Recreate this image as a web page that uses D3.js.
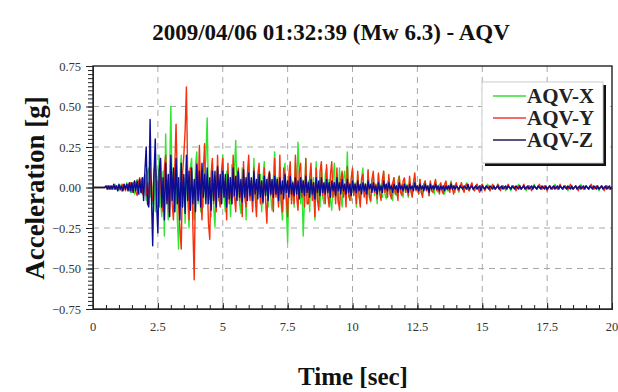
<!DOCTYPE html>
<html>
<head>
<meta charset="utf-8">
<script src="https://cdn.jsdelivr.net/npm/d3@7"></script>
<style>
  body { margin: 0; background: #fff; }
  svg { font-family: "Liberation Serif", "DejaVu Serif", serif; }
</style>
</head>
<body>
<div id="chart"></div>
<script>
// sample step of the traces, seconds
const dt = 0.05;
const xTicks = [0, 2.5, 5, 7.5, 10, 12.5, 15, 17.5, 20];
const yTicks = [-0.75, -0.5, -0.25, 0, 0.25, 0.5, 0.75];
const seriesNames = ['AQV-X', 'AQV-Y', 'AQV-Z'];

// AQV-X (green), values in g, 20 per second
const aqvX = [
  0,0,0,0,0,0,0,0,0,0, 0.01,-0.01,0.01,0,-0.01,0.01,-0.01,0.02,-0.01,0.01,
  -0.02,0.01,0.02,-0.02,0.01,-0.01,0.03,-0.02,0.02,-0.03, 0.03,-0.01,-0.04,0.03,0.05,-0.03,-0.04,0.04,0.06,-0.05,
  0.03,-0.08,0.1,0.12,-0.06,0.04,-0.1,0.08,-0.15,0.1, -0.12,0.2,-0.08,-0.18,0.1,-0.3,0.33,-0.05,-0.2,0.08,
  0.5,-0.05,0.1,-0.15,0.12,-0.2,-0.38,0.05,0.2,-0.12, 0.06,-0.22,0.15,-0.08,-0.25,0.12,0.18,-0.1,-0.2,0.14,
  0.22,-0.1,0.05,-0.15,0.1,-0.12,0.08,0.18,0.43,-0.08, 0.04,-0.18,0.15,-0.12,-0.24,0.06,0.12,-0.08,0.04,-0.1,
  0.2,-0.05,-0.15,0.1,-0.06,0.06,-0.18,0.14,-0.06,0.1, 0.29,-0.04,0.05,-0.1,-0.16,0.12,-0.04,0.06,-0.2,0.06,
  0.15,-0.06,0.04,-0.12,0.18,-0.05,-0.1,0.06,-0.04,0.08, -0.15,0.06,0.16,-0.05,0.03,-0.12,0.1,-0.06,-0.14,0.05,
  0.22,-0.04,0.06,-0.1,0.12,-0.1,-0.2,0.06,0.15,-0.12, -0.34,0.05,0.1,-0.08,0.04,-0.12,0.15,-0.05,0.28,0.08,
  -0.1,0.05,-0.3,-0.08,0.18,-0.06,0.04,-0.15,0.12,-0.05, 0.06,-0.2,0.16,-0.08,0.03,-0.12,0.14,-0.06,-0.1,0.08,
  0.12,-0.04,0.05,-0.08,-0.14,0.05,0.15,-0.06,0.04,-0.1, 0.12,-0.05,-0.12,0.06,0.1,-0.04,0.22,-0.06,0.03,-0.08,
  0.1,-0.04,0.03,-0.12,0.08,-0.05,-0.1,0.06,0.12,-0.04, 0.02,-0.08,0.1,-0.06,-0.09,0.04,0.07,-0.05,0.02,-0.1,
  0.08,-0.03,0.02,-0.06,0.1,-0.04,-0.07,0.03,0.05,-0.04, 0.02,-0.08,0.06,-0.04,-0.05,0.04,0.07,-0.03,0.02,-0.06,
  0.05,-0.03,0.02,-0.06,0.04,-0.02,-0.05,0.03,0.06,-0.02, 0.01,-0.04,0.05,-0.03,-0.03,0.02,0.04,-0.02,0.01,-0.05,
  0.03,-0.02,0.01,-0.04,0.04,-0.01,-0.03,0.02,0.02,-0.02, 0.01,-0.04,0.03,-0.02,-0.02,0.01,0.04,-0.01,0.01,-0.03,
  0.02,-0.01,-0.03,0.01,0.02,-0.01,-0.02,0.01,0.03,-0.01, -0.02,0.01,0.01,-0.01,-0.02,0.01,0.02,-0.01,-0.01,0.01,
  0.02,0,-0.01,0,0.02,0.01,-0.02,0,0.01,0, -0.01,0,0.02,0.01,-0.01,0,0.01,0,-0.02,0,
  0.01,0,-0.02,0,0.01,0,-0.01,0,0.02,0.01, -0.01,0,0.01,0,-0.02,0,0.01,0,-0.01,0,
  0.02,0,-0.01,0,0.01,0,-0.01,0,0.01,0, -0.02,0,0.01,0,-0.01,0,0.02,0,-0.01,0,
  0.01,0,-0.01,0,0.01,0,-0.02,0,0.01,0, -0.01,0,0.01,0,-0.01,0,0.02,0,-0.01,0,
  0.01,0,-0.01,0,0.01,0,-0.01,0,0.01,0, -0.02,0,0.01,0,-0.01,0,0.01,0,-0.01,0,
  0
];

// AQV-Y (red)
const aqvY = [
  0,0,0,0,0,0,0,0,0,0, 0,0.01,-0.01,0.01,-0.01,0,0.01,-0.01,0.01,-0.01,
  0.01,-0.01,-0.02,0.02,0.01,-0.02,0.01,0.02,-0.02,0.03, -0.03,0.02,0.04,-0.03,-0.05,0.03,0.06,-0.02,-0.04,0.05,
  0.08,-0.05,0.03,-0.1,0.12,-0.04,-0.08,0.1,0.15,-0.06, 0.04,-0.12,0.18,-0.1,-0.15,0.12,0.2,-0.08,0.05,-0.18,
  0.15,-0.1,-0.2,0.12,0.39,0.05,-0.12,-0.25,-0.38,0.08, 0.2,0.35,0.62,0.05,-0.2,0.12,0.1,-0.25,-0.57,0.05,
  0.15,-0.08,0.26,-0.05,-0.2,0.1,0.27,-0.06,0.05,-0.22, -0.32,0.08,0.18,-0.1,0.04,-0.15,0.2,-0.06,-0.12,0.1,
  0.18,-0.06,0.04,-0.2,0.15,-0.1,0.05,-0.1,0.2,-0.05, -0.15,0.06,0.12,-0.08,0.03,-0.18,0.16,-0.06,-0.12,0.08,
  0.2,-0.08,0.04,-0.15,0.12,-0.06,-0.18,0.08,0.15,-0.1, 0.03,-0.1,0.12,-0.08,-0.22,0.06,0.1,-0.05,0.04,-0.15,
  0.18,-0.06,0.03,-0.12,0.2,-0.08,-0.15,0.12,0.04,-0.06, -0.18,0.08,0.16,-0.1,0.02,-0.1,0.2,-0.06,-0.14,0.1,
  0.15,-0.06,0.04,-0.12,0.18,-0.1,-0.1,0.06,0.15,-0.08, 0.03,-0.18,0.12,-0.08,-0.14,0.1,0.16,-0.05,0.02,-0.1,
  0.14,-0.05,-0.12,0.08,0.16,-0.06,0.03,-0.1,0.12,-0.08, -0.14,0.05,0.1,-0.06,0.02,-0.12,0.13,-0.04,-0.08,0.06,
  0.12,-0.05,0.02,-0.1,0.1,-0.04,-0.12,0.05,0.08,-0.06, 0.02,-0.1,0.11,-0.05,-0.08,0.05,0.1,-0.03,0.02,-0.07,
  0.09,-0.04,-0.08,0.05,0.1,-0.03,0.02,-0.06,0.08,-0.04, -0.07,0.03,0.06,-0.04,0.01,-0.08,0.07,-0.03,-0.05,0.04,
  0.06,-0.03,0.01,-0.05,0.07,-0.02,-0.06,0.03,0.09,-0.02, 0.01,-0.04,0.05,-0.03,-0.06,0.02,0.04,-0.02,0.01,-0.05,
  0.04,-0.02,-0.03,0.02,0.05,-0.02,0.01,-0.04,0.03,-0.02, -0.04,0.02,0.04,-0.01,0.01,-0.03,0.03,-0.01,-0.04,0.01,
  0.03,-0.01,-0.02,0.01,0.03,-0.01,-0.03,0.01,0.02,-0.01, -0.02,0.01,0.03,-0.01,-0.02,0.01,0.02,-0.01,-0.03,0.01,
  0.02,0,-0.02,0,0.01,0,-0.02,0,0.02,0, -0.01,0,0.02,0,-0.02,0,0.01,0,-0.01,0,
  0.02,0,-0.01,0,0.01,0,-0.02,0,0.01,0, -0.01,0,0.02,0,-0.01,0,0.01,0,-0.02,0,
  0.01,0,-0.01,0,0.02,0,-0.01,0,0.01,0, -0.02,0,0.01,0,-0.01,0,0.01,0,-0.01,0,
  0.02,0,-0.01,0,0.01,0,-0.01,0,0.02,0, -0.01,0,0.01,0,-0.02,0,0.01,0,-0.01,0,
  0.01,0,-0.01,0,0.02,0,-0.01,0,0.01,0, -0.01,0,0.01,0,-0.02,0,0.01,0,-0.01,0,
  0
];

// AQV-Z (blue)
const aqvZ = [
  0,0,0,0,0,0,0,0,0,0, 0.01,-0.01,0.01,-0.01,0.01,-0.01,0.02,-0.01,0.01,-0.02,
  0.02,-0.01,0.01,-0.02,0.02,-0.01,0.02,-0.02,0.03,-0.02, 0.03,-0.03,0.04,-0.02,0.04,-0.04,0.05,-0.03,0.06,-0.08,
  0.1,0.25,-0.1,-0.12,0.42,-0.05,-0.36,0.08,0.3,-0.1, -0.28,0.1,0.18,-0.12,0.06,-0.2,0.15,-0.1,0.08,-0.18,
  0.2,-0.08,0.12,-0.15,0.18,-0.1,0.06,-0.2,0.15,-0.12, 0.08,-0.16,0.2,-0.08,0.1,-0.14,0.12,-0.1,0.05,-0.15,
  0.14,-0.08,0.1,-0.12,0.15,-0.06,0.08,-0.1,0.12,-0.1, 0.06,-0.14,0.1,-0.08,0.1,-0.12,0.13,-0.06,0.08,-0.1,
  0.1,-0.06,0.08,-0.12,0.08,-0.07,0.06,-0.1,0.12,-0.05, 0.07,-0.08,0.1,-0.06,0.05,-0.09,0.11,-0.06,0.06,-0.08,
  0.09,-0.05,0.06,-0.08,0.1,-0.04,0.05,-0.07,0.08,-0.06, 0.04,-0.09,0.07,-0.05,0.05,-0.08,0.09,-0.04,0.05,-0.06,
  0.07,-0.04,0.05,-0.08,0.06,-0.04,0.04,-0.07,0.08,-0.03, 0.04,-0.06,0.07,-0.04,0.03,-0.05,0.06,-0.04,0.04,-0.07,
  0.06,-0.03,0.04,-0.05,0.07,-0.03,0.03,-0.06,0.05,-0.04, 0.03,-0.07,0.06,-0.03,0.04,-0.05,0.06,-0.03,0.03,-0.04,
  0.05,-0.03,0.03,-0.06,0.04,-0.02,0.03,-0.05,0.06,-0.02, 0.03,-0.04,0.05,-0.02,0.02,-0.04,0.05,-0.03,0.02,-0.05,
  0.04,-0.02,0.02,-0.03,0.04,-0.02,0.02,-0.04,0.03,-0.02, 0.02,-0.04,0.04,-0.01,0.02,-0.03,0.03,-0.02,0.01,-0.04,
  0.03,-0.02,0.01,-0.03,0.04,-0.01,0.02,-0.02,0.03,-0.01, 0.01,-0.03,0.02,-0.01,0.01,-0.03,0.03,-0.01,0.01,-0.02,
  0.02,-0.01,0.01,-0.03,0.02,-0.01,0.01,-0.02,0.03,-0.01, 0.01,-0.02,0.02,-0.01,0.01,-0.02,0.02,-0.01,0.01,-0.03,
  0.02,-0.01,0.01,-0.01,0.02,-0.01,0.01,-0.02,0.01,-0.01, 0.01,-0.02,0.01,-0.01,0.01,-0.01,0.02,-0.01,0.01,-0.01,
  0.01,0,-0.01,0.01,0,-0.01,0.01,0,-0.01,0.02, -0.01,0,0.01,-0.01,0,0.01,-0.01,0,0.01,-0.02,
  0.01,0,-0.01,0.01,0,-0.01,0.01,0,-0.01,0.01, -0.01,0,0.01,-0.01,0,0.01,-0.01,0,0.01,-0.01,
  0.01,0,-0.01,0.01,0,-0.01,0.01,0,-0.01,0.01, -0.01,0,0.01,-0.01,0,0.01,-0.01,0,0.01,-0.01,
  0.01,0,-0.01,0.01,0,-0.01,0.01,0,-0.01,0.01, -0.01,0,0.01,-0.01,0,0.01,-0.01,0,0.01,-0.01,
  0.01,0,-0.01,0.01,0,-0.01,0.01,0,-0.01,0.01, -0.01,0,0.01,-0.01,0,0.01,-0.01,0,0.01,-0.01,
  0.01,0,-0.01,0.01,0,-0.01,0.01,0,-0.01,0.01, -0.01,0,0.01,-0.01,0,0.01,-0.01,0,0.01,-0.01,
  0
];

const seriesValues = [aqvX, aqvY, aqvZ];
const colors = ['#2fe62f', '#f5300f', '#0c0c95'];
const legendColors = ['#66e866', '#f56a6a', '#55557f'];

const width = 618, height = 392;
const margin = { top: 66, right: 6, bottom: 83, left: 93 };
const plotW = width - margin.left - margin.right;
const plotH = height - margin.top - margin.bottom;
const serif = '"Liberation Serif", "Times New Roman", serif';

const svg = d3.select('#chart').append('svg')
  .attr('width', width)
  .attr('height', height);

const x = d3.scaleLinear().domain([0, 20]).range([0, plotW]);
const y = d3.scaleLinear().domain([-0.75, 0.75]).range([plotH, 0]);

const g = svg.append('g')
  .attr('transform', `translate(${margin.left},${margin.top})`);

// dashed grid
g.append('g').selectAll('line')
  .data(xTicks.slice(1, -1))
  .enter().append('line')
  .attr('x1', d => x(d)).attr('x2', d => x(d))
  .attr('y1', 0).attr('y2', plotH)
  .attr('stroke', '#a8a8a8')
  .attr('stroke-dasharray', '6,5');
g.append('g').selectAll('line')
  .data(yTicks.slice(1, -1))
  .enter().append('line')
  .attr('y1', d => y(d)).attr('y2', d => y(d))
  .attr('x1', 0).attr('x2', plotW)
  .attr('stroke', '#a8a8a8')
  .attr('stroke-dasharray', '6,5');

// traces
const line = d3.line()
  .x((d, i) => x(i * dt))
  .y(d => y(d));
g.append('g').selectAll('path')
  .data(seriesValues)
  .enter().append('path')
  .attr('d', line)
  .attr('fill', 'none')
  .attr('stroke', (d, i) => colors[i])
  .attr('stroke-width', 1.4)
  .attr('stroke-linejoin', 'round');

// frame
g.append('rect')
  .attr('width', plotW).attr('height', plotH)
  .attr('fill', 'none')
  .attr('stroke', '#222')
  .attr('stroke-width', 1.4);

// y axis with ruler-like minor ticks
const yAxis = g.append('g')
  .call(d3.axisLeft(y).tickValues(yTicks).tickFormat(d3.format('.2f')).tickSize(7).tickPadding(5));
yAxis.attr('font-family', null);
yAxis.append('g')
  .call(d3.axisLeft(y).tickValues(d3.range(-30, 31).map(k => k * 0.025)).tickSize(5).tickFormat(''));
yAxis.selectAll('.domain').attr('stroke', '#222');
yAxis.selectAll('line').attr('stroke', '#222');
yAxis.selectAll('text')
  .attr('fill', '#333')
  .style('font-family', serif)
  .style('font-size', '12.5px');

// x axis, ticks pointing inward
const xAxis = g.append('g')
  .attr('transform', `translate(0,${plotH})`)
  .call(d3.axisTop(x).tickValues(xTicks).tickSize(6).tickFormat(''));
xAxis.append('g')
  .call(d3.axisTop(x).tickValues(d3.range(0, 41).map(k => k * 0.5)).tickSize(4).tickFormat(''));
xAxis.selectAll('.domain').attr('stroke', '#222');
xAxis.selectAll('line').attr('stroke', '#222');
g.append('g').selectAll('text')
  .data(xTicks)
  .enter().append('text')
  .attr('x', d => x(d))
  .attr('y', plotH + 22)
  .attr('text-anchor', 'middle')
  .attr('fill', '#333')
  .style('font-family', serif)
  .style('font-size', '12.5px')
  .text(d => d);

// titles
svg.append('text')
  .attr('x', 331).attr('y', 40)
  .attr('text-anchor', 'middle')
  .style('font-size', '23px')
  .style('font-weight', 'bold')
  .attr('fill', '#111')
  .text('2009/04/06 01:32:39 (Mw 6.3) - AQV');
svg.append('text')
  .attr('x', 353).attr('y', 385)
  .attr('text-anchor', 'middle')
  .style('font-size', '25px')
  .style('font-weight', 'bold')
  .attr('fill', '#111')
  .text('Time [sec]');
svg.append('text')
  .attr('transform', 'translate(44,188) rotate(-90)')
  .attr('text-anchor', 'middle')
  .style('font-size', '27px')
  .style('font-weight', 'bold')
  .attr('fill', '#111')
  .text('Acceleration [g]');

// legend with drop shadow
const lg = svg.append('g').attr('transform', 'translate(482,82)');
lg.append('rect')
  .attr('x', 3).attr('y', 3).attr('width', 121).attr('height', 81)
  .attr('fill', '#111');
lg.append('rect')
  .attr('width', 121).attr('height', 81)
  .attr('fill', '#fff')
  .attr('stroke', '#ccc');
const item = lg.selectAll('g.item')
  .data(seriesNames)
  .enter().append('g')
  .attr('class', 'item')
  .attr('transform', (d, i) => `translate(0,${14 + i * 22})`);
item.append('line')
  .attr('x1', 11).attr('x2', 44)
  .attr('stroke', (d, i) => legendColors[i])
  .attr('stroke-width', 2);
item.append('text')
  .attr('x', 45).attr('y', 7)
  .style('font-size', '21px')
  .style('font-weight', 'bold')
  .attr('fill', '#222')
  .text(d => d);
</script>
</body>
</html>
